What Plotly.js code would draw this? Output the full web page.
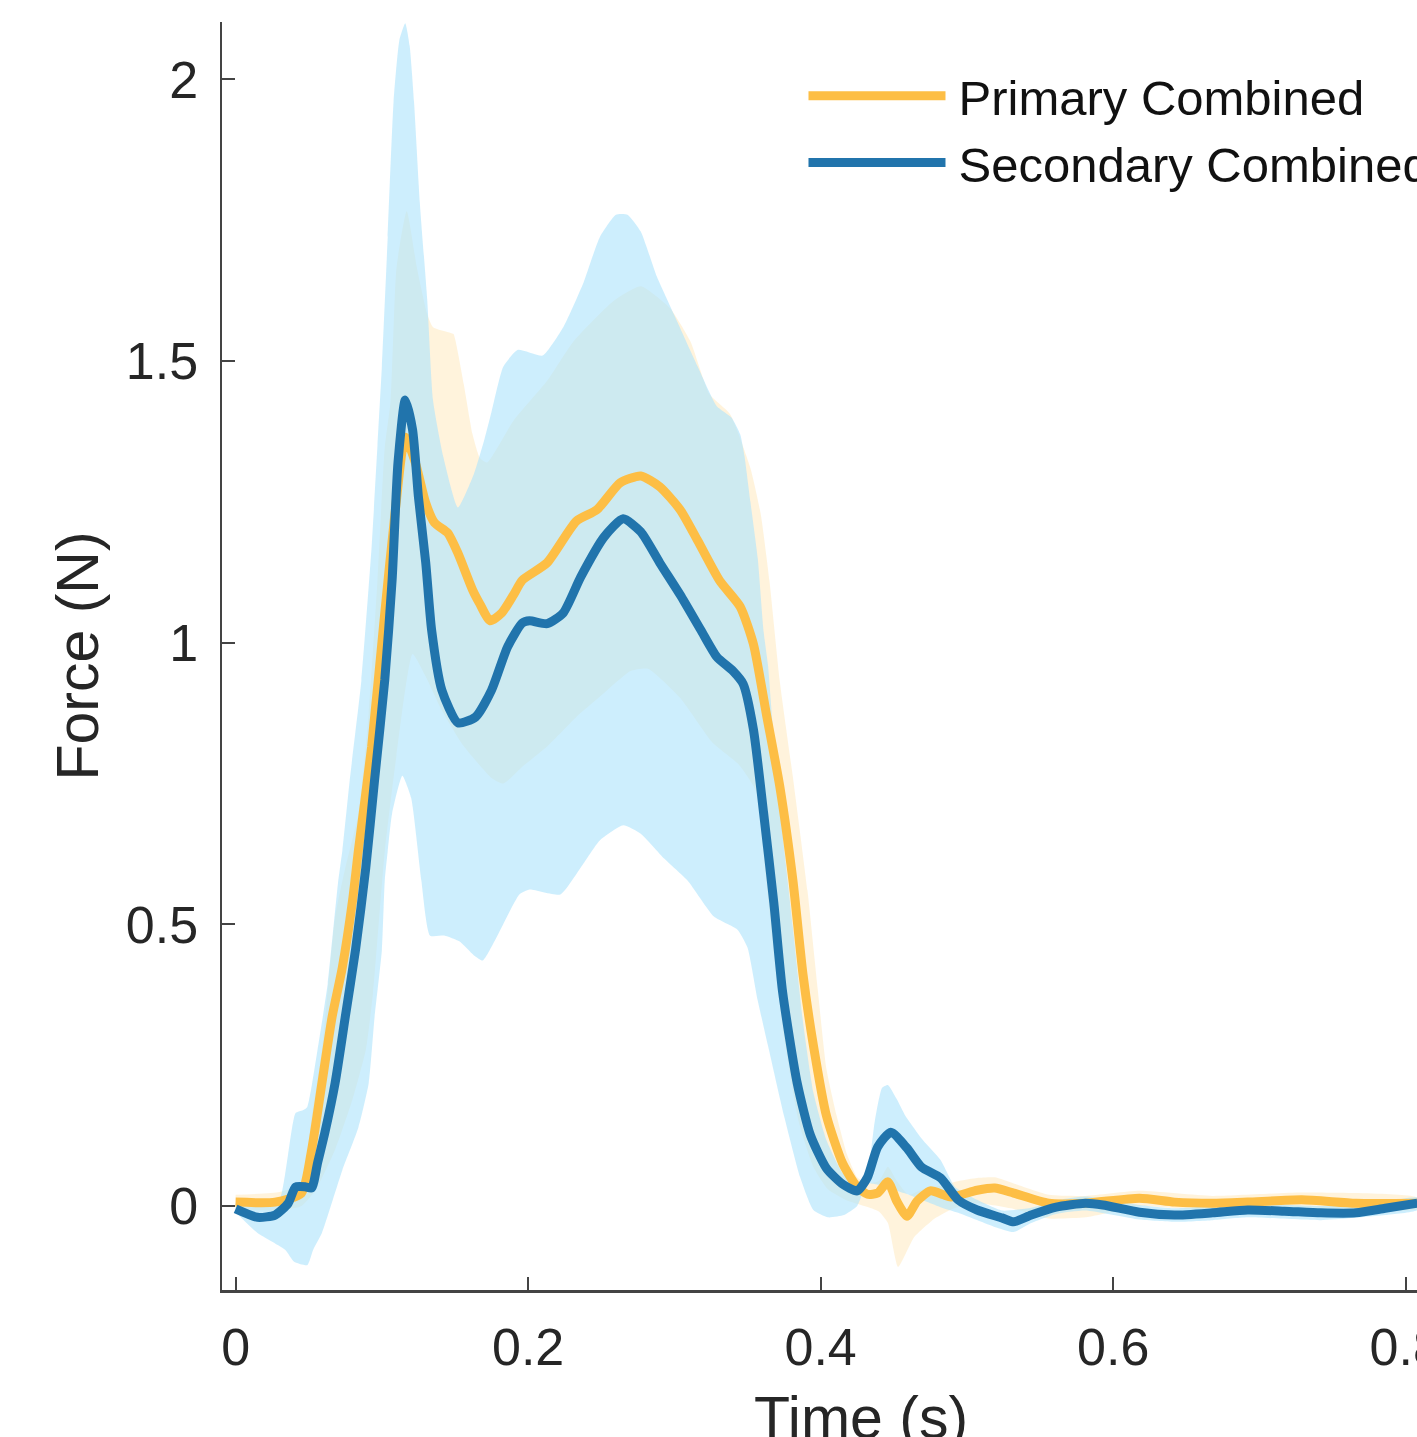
<!DOCTYPE html>
<html>
<head>
<meta charset="utf-8">
<script src="https://cdn.plot.ly/plotly-3.0.1.min.js"></script>
<style>
html, body { margin:0; padding:0; overflow:hidden; background:#fff; }
#chart { width:1520px; height:1520px; }
</style>
</head>
<body>
<div id="chart"></div>
<script>
// ---------- DATA ----------
const seriesNames = ["Primary Combined", "Secondary Combined"];

// Primary Combined: mean curve
const tPrimary = [0.000,0.027,0.045,0.052,0.059,0.066,0.073,0.080,0.084,0.093,0.102,0.109,0.116,0.123,0.130,0.136,0.145,0.152,0.162,0.167,0.174,0.182,0.190,0.196,0.213,0.233,0.247,0.263,0.277,0.290,0.304,0.316,0.331,0.345,0.354,0.363,0.372,0.381,0.388,0.395,0.404,0.415,0.425,0.432,0.439,0.446,0.452,0.459,0.466,0.475,0.484,0.489,0.507,0.519,0.532,0.556,0.581,0.618,0.642,0.668,0.692,0.729,0.766,0.808];
const fPrimary = [0.007,0.007,0.023,0.100,0.218,0.336,0.424,0.543,0.632,0.815,1.053,1.230,1.365,1.319,1.248,1.213,1.195,1.159,1.094,1.069,1.039,1.053,1.085,1.111,1.142,1.216,1.236,1.284,1.296,1.277,1.236,1.181,1.110,1.064,0.998,0.872,0.746,0.579,0.410,0.286,0.160,0.076,0.034,0.021,0.023,0.043,0.009,-0.018,0.009,0.027,0.020,0.016,0.028,0.032,0.023,0.005,0.005,0.014,0.007,0.005,0.007,0.011,0.005,0.005];

// Primary Combined: band upper / lower edges
const tPrimaryUpper = [0.000,0.030,0.045,0.052,0.059,0.068,0.075,0.084,0.091,0.097,0.102,0.106,0.110,0.117,0.124,0.131,0.135,0.147,0.149,0.156,0.162,0.167,0.172,0.190,0.213,0.231,0.258,0.277,0.297,0.311,0.324,0.338,0.352,0.359,0.365,0.372,0.381,0.391,0.398,0.404,0.411,0.418,0.425,0.432,0.440,0.446,0.452,0.460,0.470,0.480,0.495,0.507,0.519,0.532,0.556,0.581,0.618,0.668,0.729,0.808];
const fPrimaryUpper = [0.020,0.025,0.040,0.158,0.277,0.512,0.600,0.697,0.874,1.110,1.346,1.429,1.665,1.766,1.665,1.583,1.560,1.550,1.548,1.459,1.370,1.328,1.320,1.394,1.465,1.535,1.606,1.633,1.594,1.535,1.441,1.406,1.310,1.229,1.110,0.933,0.762,0.560,0.385,0.243,0.160,0.092,0.051,0.040,0.045,0.070,0.045,0.020,0.030,0.035,0.045,0.050,0.051,0.040,0.020,0.018,0.027,0.018,0.024,0.015];
const tPrimaryLower = [0.000,0.030,0.045,0.055,0.068,0.080,0.089,0.094,0.102,0.110,0.121,0.130,0.141,0.155,0.175,0.183,0.196,0.213,0.234,0.248,0.270,0.282,0.304,0.326,0.344,0.356,0.362,0.368,0.375,0.385,0.395,0.405,0.418,0.430,0.440,0.446,0.453,0.464,0.478,0.490,0.507,0.532,0.556,0.581,0.600,0.618,0.668,0.729,0.808];
const fPrimaryLower = [-0.005,-0.008,0.000,0.030,0.100,0.190,0.277,0.380,0.630,0.800,0.980,0.940,0.880,0.820,0.760,0.750,0.780,0.816,0.871,0.902,0.950,0.954,0.902,0.823,0.784,0.736,0.600,0.450,0.300,0.150,0.070,0.030,0.010,0.000,-0.010,-0.030,-0.108,-0.055,-0.022,-0.005,0.005,-0.005,-0.022,-0.020,-0.010,0.000,-0.008,-0.002,-0.005];

// Secondary Combined: mean curve
const tSecondary = [0.000,0.015,0.027,0.036,0.041,0.048,0.052,0.056,0.061,0.068,0.075,0.082,0.089,0.095,0.102,0.107,0.111,0.116,0.121,0.125,0.130,0.134,0.141,0.152,0.164,0.175,0.186,0.196,0.201,0.213,0.224,0.236,0.252,0.265,0.277,0.290,0.304,0.318,0.329,0.340,0.347,0.354,0.361,0.368,0.374,0.384,0.393,0.404,0.415,0.425,0.432,0.439,0.448,0.459,0.469,0.482,0.494,0.507,0.524,0.532,0.544,0.561,0.581,0.593,0.618,0.642,0.668,0.692,0.717,0.742,0.766,0.786,0.808];
const fSecondary = [-0.005,-0.020,-0.016,0.005,0.034,0.034,0.032,0.076,0.130,0.218,0.336,0.455,0.600,0.756,0.934,1.111,1.319,1.431,1.378,1.259,1.142,1.023,0.916,0.858,0.868,0.916,0.993,1.035,1.039,1.034,1.053,1.117,1.188,1.220,1.197,1.142,1.085,1.023,0.975,0.950,0.927,0.847,0.698,0.538,0.380,0.218,0.126,0.067,0.039,0.027,0.051,0.105,0.131,0.103,0.069,0.050,0.011,-0.007,-0.021,-0.028,-0.016,-0.002,0.005,0.002,-0.011,-0.016,-0.012,-0.007,-0.009,-0.012,-0.012,-0.004,0.005];

// Secondary Combined: band upper / lower edges
const tSecondaryUpper = [0.000,0.020,0.030,0.041,0.046,0.049,0.056,0.063,0.070,0.073,0.078,0.086,0.093,0.097,0.100,0.104,0.108,0.112,0.116,0.119,0.122,0.126,0.131,0.135,0.142,0.152,0.163,0.170,0.175,0.183,0.193,0.210,0.224,0.233,0.238,0.249,0.260,0.268,0.277,0.288,0.302,0.316,0.329,0.339,0.345,0.348,0.352,0.357,0.361,0.364,0.368,0.374,0.381,0.388,0.395,0.404,0.415,0.425,0.432,0.437,0.442,0.446,0.452,0.458,0.470,0.482,0.492,0.507,0.524,0.544,0.561,0.581,0.618,0.642,0.668,0.692,0.742,0.786,0.808];
const fSecondaryUpper = [0.005,0.000,0.010,0.165,0.170,0.176,0.277,0.395,0.573,0.631,0.755,0.933,1.170,1.350,1.490,1.720,1.960,2.070,2.100,2.060,1.960,1.780,1.610,1.430,1.330,1.240,1.300,1.360,1.410,1.490,1.520,1.510,1.560,1.610,1.640,1.720,1.760,1.760,1.730,1.650,1.570,1.490,1.420,1.400,1.370,1.330,1.250,1.150,1.020,0.960,0.828,0.661,0.495,0.326,0.202,0.117,0.059,0.034,0.060,0.150,0.210,0.215,0.190,0.160,0.117,0.082,0.034,0.011,-0.008,-0.003,0.010,0.017,0.002,-0.004,0.000,0.005,0.000,0.008,0.015];
const tSecondaryLower = [0.000,0.015,0.034,0.040,0.049,0.053,0.059,0.073,0.084,0.091,0.095,0.100,0.102,0.104,0.107,0.114,0.120,0.127,0.133,0.143,0.153,0.163,0.169,0.178,0.194,0.201,0.222,0.236,0.249,0.265,0.277,0.293,0.309,0.327,0.343,0.350,0.357,0.364,0.375,0.386,0.395,0.405,0.416,0.425,0.432,0.445,0.457,0.469,0.482,0.494,0.519,0.532,0.544,0.561,0.581,0.618,0.642,0.668,0.692,0.742,0.786,0.808];
const fSecondaryLower = [-0.011,-0.048,-0.078,-0.099,-0.105,-0.078,-0.048,0.064,0.140,0.218,0.335,0.454,0.578,0.630,0.697,0.764,0.725,0.578,0.480,0.480,0.470,0.445,0.436,0.475,0.553,0.562,0.553,0.601,0.649,0.676,0.661,0.617,0.578,0.514,0.491,0.459,0.365,0.285,0.160,0.051,-0.007,-0.020,-0.016,0.000,0.040,0.034,0.023,0.011,-0.002,-0.012,-0.037,-0.046,-0.030,-0.014,-0.008,-0.024,-0.028,-0.025,-0.020,-0.025,-0.016,-0.007];

const xTickVals = [0, 0.2, 0.4, 0.6, 0.8];
const xTickText = ["0", "0.2", "0.4", "0.6", "0.8"];
const yTickVals = [0, 0.5, 1, 1.5, 2];
const yTickText = ["0", "0.5", "1", "1.5", "2"];

// ---------- STYLE ----------
const FONT = "Liberation Sans, Arial, Helvetica, sans-serif";
const TXT = "#262626";
const AX = "#444444";
const colPrimary = "#FDBE45";
const colSecondary = "#2174AC";
const fillPrimary = "rgba(255,190,70,0.19)";
const fillSecondary = "rgba(175,227,252,0.62)";

function band(tU, fU, tL, fL, color, name) {
  return {
    type: "scatter", mode: "lines", name: name + " band",
    x: tU.concat(tL.slice().reverse()),
    y: fU.concat(fL.slice().reverse()),
    fill: "toself", fillcolor: color,
    line: { width: 0, color: "rgba(0,0,0,0)", shape: "spline", smoothing: 0.5 },
    hoverinfo: "skip", showlegend: false
  };
}

const traces = [
  band(tPrimaryUpper, fPrimaryUpper, tPrimaryLower, fPrimaryLower, fillPrimary, seriesNames[0]),
  band(tSecondaryUpper, fSecondaryUpper, tSecondaryLower, fSecondaryLower, fillSecondary, seriesNames[1]),
  { type: "scatter", mode: "lines", name: seriesNames[0], x: tPrimary, y: fPrimary,
    line: { color: colPrimary, width: 9, shape: "spline", smoothing: 0.6 } },
  { type: "scatter", mode: "lines", name: seriesNames[1], x: tSecondary, y: fSecondary,
    line: { color: colSecondary, width: 9, shape: "spline", smoothing: 0.6 } }
];

const layout = {
  width: 1520, height: 1520,
  margin: { l: 222, r: 20, t: 22, b: 230 },
  paper_bgcolor: "#ffffff", plot_bgcolor: "#ffffff",
  font: { family: FONT, color: TXT },
  showlegend: true,
  legend: {
    x: 0.455, y: 0.972, xanchor: "left", yanchor: "top",
    bgcolor: "rgba(0,0,0,0)", borderwidth: 0,
    font: { family: FONT, size: 49, color: "#111111" },
    itemwidth: 145, traceorder: "normal"
  },
  xaxis: {
    range: [-0.0093, 0.8645], autorange: false,
    tickvals: xTickVals, ticktext: xTickText,
    ticks: "inside", ticklen: 13, tickwidth: 2, tickcolor: AX,
    showline: true, linecolor: AX, linewidth: 2.5, mirror: false,
    showgrid: false, zeroline: false, ticklabelstandoff: 10,
    tickfont: { family: FONT, size: 52, color: TXT },
    title: { text: "Time (s)", font: { family: FONT, size: 59, color: TXT }, standoff: 22 }
  },
  yaxis: {
    range: [-0.149, 2.102], autorange: false,
    tickvals: yTickVals, ticktext: yTickText,
    ticks: "inside", ticklen: 13, tickwidth: 2, tickcolor: AX,
    showline: true, linecolor: AX, linewidth: 2.5, mirror: false,
    showgrid: false, zeroline: false, ticklabelstandoff: 11,
    tickfont: { family: FONT, size: 52, color: TXT },
    title: { text: "Force (N)", font: { family: FONT, size: 59, color: TXT }, standoff: 8 }
  }
};

Plotly.newPlot("chart", traces, layout, { displayModeBar: false, staticPlot: true }).then(function (gd) {
  // lengthen the legend line samples to match the reference
  gd.querySelectorAll(".legend path.js-line").forEach(function (p) {
    p.setAttribute("d", "M5,0h137");
  });
});
</script>
</body>
</html>
